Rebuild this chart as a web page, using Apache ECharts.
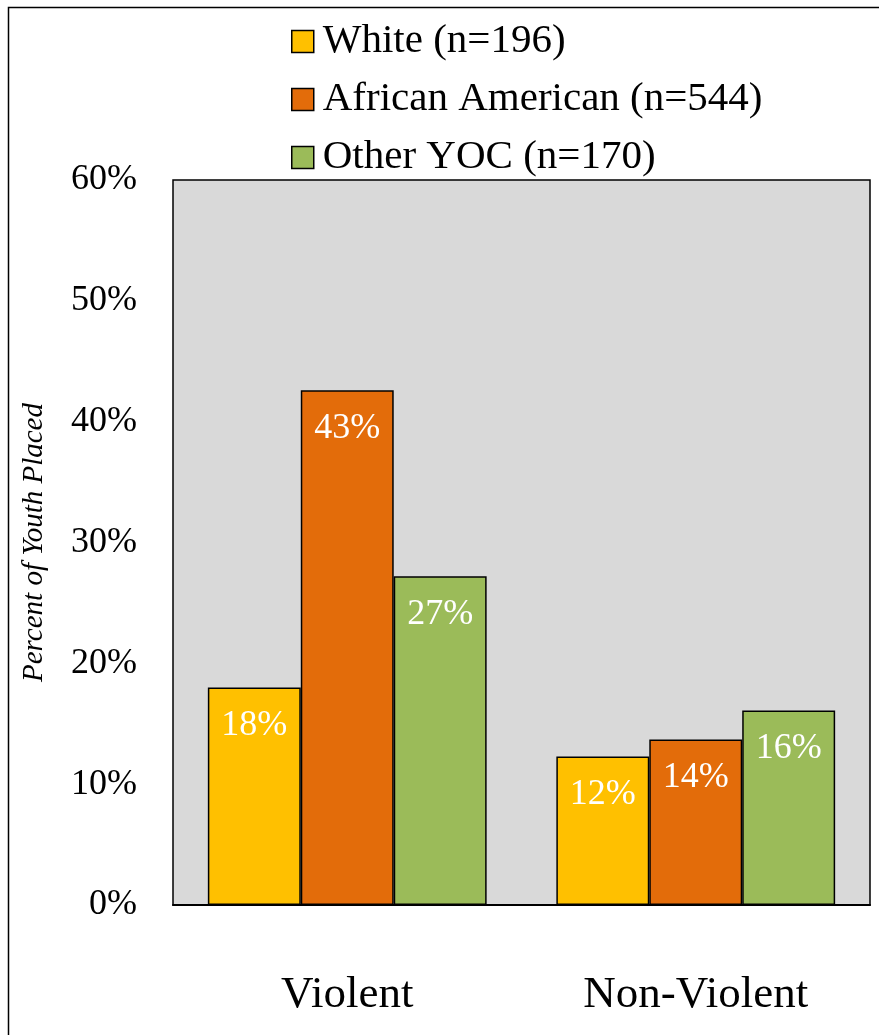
<!DOCTYPE html>
<html>
<head>
<meta charset="utf-8">
<script src="https://cdn.jsdelivr.net/npm/echarts@6/dist/echarts.min.js"></script>
<style>
  html, body { margin: 0; padding: 0; background: #fff; }
  #chart { width: 879px; height: 1035px; }
</style>
</head>
<body>
<div id="chart"></div>
<script>
// Offense categories along the x axis
const categories = ['Violent', 'Non-Violent'];

// Percent of youth placed, by group
const whiteValues = [18.0, 12.3];
const africanAmericanValues = [42.6, 13.7];
const otherYocValues = [27.2, 16.1];

const seriesNames = ['White (n=196)', 'African American (n=544)', 'Other YOC (n=170)'];
const seriesColors = ['#FFC000', '#E36C0A', '#9BBB59'];

// Y-axis range and step (percent)
const yMin = 0;
const yMax = 60;
const yStep = 10;

const FONT = "'Liberation Serif', 'Times New Roman', serif";

const chart = echarts.init(document.getElementById('chart'), null, { renderer: 'canvas' });

function barSeries(name, values, color) {
  return {
    name: name,
    type: 'bar',
    data: values,
    barGap: '0%',
    barCategoryGap: '20%',
    itemStyle: { color: color, borderColor: '#000', borderWidth: 1.5 },
    label: {
      show: true,
      position: 'insideTop',
      distance: 20,
      color: '#fff',
      fontFamily: FONT,
      fontSize: 36,
      formatter: p => Math.round(p.value) + '%'
    }
  };
}

chart.setOption({
  animation: false,
  backgroundColor: '#fff',
  textStyle: { fontFamily: FONT },
  graphic: [{
    type: 'rect',
    shape: { x: 8.5, y: 7.5, width: 900, height: 1100 },
    style: { fill: 'none', stroke: '#000', lineWidth: 1.5 },
    silent: true
  }],
  legend: {
    orient: 'vertical',
    left: 286,
    top: 16,
    itemWidth: 22,
    itemHeight: 22,
    itemGap: 17,
    icon: 'rect',
    itemStyle: { borderColor: '#000', borderWidth: 1.5 },
    textStyle: { fontFamily: FONT, fontSize: 41, color: '#000', padding: [0, 0, 0, 4] },
    data: seriesNames
  },
  grid: {
    left: 173,
    right: 9,
    top: 180,
    bottom: 130,
    show: true,
    backgroundColor: '#D9D9D9',
    borderColor: '#000',
    borderWidth: 1.5
  },
  xAxis: {
    type: 'category',
    data: categories,
    axisLine: { show: true, lineStyle: { color: '#000', width: 2 } },
    axisTick: { show: false },
    axisLabel: { color: '#000', fontFamily: FONT, fontSize: 45, margin: 68 }
  },
  yAxis: {
    type: 'value',
    min: yMin,
    max: yMax,
    interval: yStep,
    name: 'Percent of Youth Placed',
    nameLocation: 'middle',
    nameGap: 124,
    nameTextStyle: { color: '#000', fontFamily: FONT, fontSize: 29, fontStyle: 'italic' },
    axisLine: { show: false },
    axisTick: { show: false },
    splitLine: { show: false },
    axisLabel: { color: '#000', fontFamily: FONT, fontSize: 36, margin: 36, formatter: '{value}%' }
  },
  series: [
    barSeries(seriesNames[0], whiteValues, seriesColors[0]),
    barSeries(seriesNames[1], africanAmericanValues, seriesColors[1]),
    barSeries(seriesNames[2], otherYocValues, seriesColors[2])
  ]
});
</script>
</body>
</html>
